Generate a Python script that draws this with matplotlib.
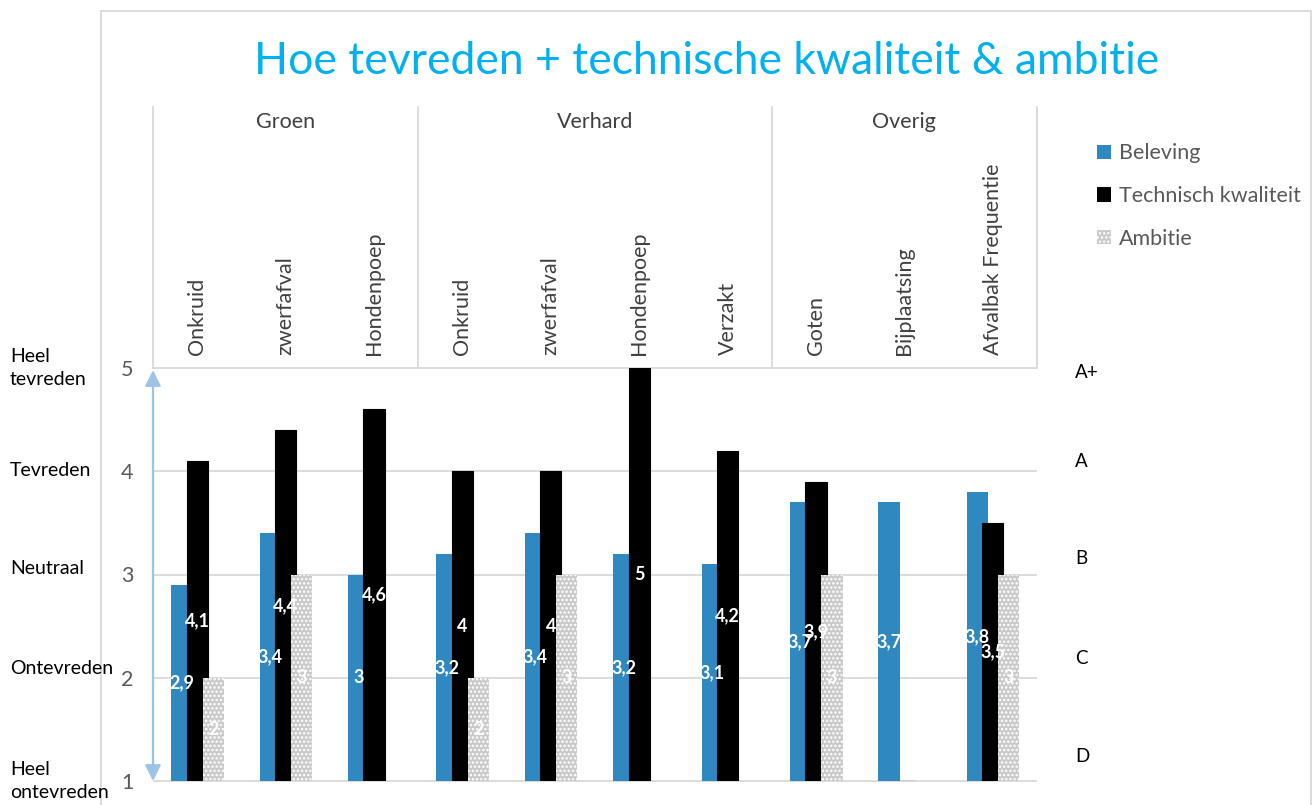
import numpy as np
import matplotlib.pyplot as plt
import matplotlib.transforms as mtransforms
from matplotlib.patches import Rectangle, Patch

plt.rcParams['font.family'] = ['Lato', 'DejaVu Sans']
plt.rcParams['hatch.linewidth'] = 1.2

# data
title = 'Hoe tevreden + technische kwaliteit & ambitie'
groups = ['Groen', 'Verhard', 'Overig']
group_sizes = [3, 4, 3]
categories = ['Onkruid', 'zwerfafval', 'Hondenpoep',
              'Onkruid', 'zwerfafval', 'Hondenpoep', 'Verzakt',
              'Goten', 'Bijplaatsing', 'Afvalbak Frequentie']
beleving = [2.9, 3.4, 3.0, 3.2, 3.4, 3.2, 3.1, 3.7, 3.7, 3.8]
technisch = [4.1, 4.4, 4.6, 4.0, 4.0, 5.0, 4.2, 3.9, 1.0, 3.5]
ambitie = [2, 3, np.nan, 2, 3, np.nan, np.nan, 3, np.nan, 3]
series_names = ['Beleving', 'Technisch kwaliteit', 'Ambitie']
y_ticks = [1, 2, 3, 4, 5]
left_labels = ['Heel\ntevreden', 'Tevreden', 'Neutraal', 'Ontevreden', 'Heel\nontevreden']
right_labels = ['A+', 'A', 'B', 'C', 'D']

W, H = 1315, 805
blue = '#2F88C0'
grid_col = '#D9D9D9'
text_col = '#404040'


def fmt(v):
    return ('%g' % v).replace('.', ',')


fig = plt.figure(figsize=(W / 100, H / 100), dpi=100)
ax = fig.add_axes([153 / W, 1 - 781 / H, (1037 - 153) / W, (781 - 368) / H])

x = np.arange(len(categories))
width = 0.24
offsets = [-0.175, 0.0, 0.18]

# bars are drawn from the axis minimum 1
ax.bar(x + offsets[0], np.array(beleving) - 1, bottom=1, width=width,
       color=blue, zorder=2)
ax.bar(x + offsets[1], np.array(technisch) - 1, bottom=1, width=width,
       color='black', edgecolor='black', linewidth=0.8, zorder=3)
ax.bar(x + offsets[2], np.array(ambitie, dtype=float) - 1, bottom=1, width=width,
       color='#C9C9C9', edgecolor='white', hatch='....', linewidth=0, zorder=4)

# data labels in the middle of each bar
for vals, off in zip([beleving, technisch, ambitie], offsets):
    for i, v in enumerate(vals):
        if np.isnan(v) or v <= 1:
            continue
        ax.text(i + off, (1 + v) / 2, fmt(v), ha='center', va='center',
                color='white', fontsize=13, fontweight='bold', zorder=6)

ax.set_xlim(-0.5, len(categories) - 0.5)
ax.set_ylim(1, 5)
ax.set_yticks(y_ticks)
ax.set_yticklabels([str(t) for t in y_ticks], fontsize=15.5, color='#595959')
ax.tick_params(axis='y', length=0, pad=14)
ax.set_xticks([])
for s in ax.spines.values():
    s.set_visible(False)
ax.hlines(y_ticks, -0.5, len(categories) - 0.5, color=grid_col, lw=1.3,
          zorder=0, clip_on=False)

# vertical arrow along the value axis
ax.annotate('', xy=(0, 0.995), xytext=(0, 0.0), xycoords='axes fraction',
            arrowprops=dict(arrowstyle='<|-|>', color='#9DC3E6', lw=1.6,
                            mutation_scale=24, shrinkA=0, shrinkB=0),
            annotation_clip=False, zorder=5)

# category header above the plot
trans = mtransforms.blended_transform_factory(ax.transData, ax.transAxes)
bounds = np.concatenate([[0], np.cumsum(group_sizes)]) - 0.5
for b in bounds:
    ax.plot([b, b], [1.0, 1.632], transform=trans, color=grid_col, lw=1.3,
            clip_on=False)
for g, lo, hi in zip(groups, bounds[:-1], bounds[1:]):
    ax.text((lo + hi) / 2, 1.596, g, transform=trans, ha='center', va='center',
            fontsize=15.5, color=text_col)
for i, c in enumerate(categories):
    ax.text(i, 1.031, c, transform=trans, rotation=90, ha='center', va='bottom',
            fontsize=15.5, color=text_col)

# labels left and right of the plot
left_y = [368, 470, 568, 668, 781]
for lab, py in zip(left_labels, left_y):
    fig.text(10 / W, 1 - py / H, lab, ha='left', va='center', fontsize=14,
             color='black', linespacing=1.4)
right_y = [372, 461, 559, 658, 756]
for lab, py in zip(right_labels, right_y):
    fig.text(1075 / W, 1 - py / H, lab, ha='left', va='center', fontsize=13.5,
             color='black')

# legend
handles = [Patch(facecolor=blue),
           Patch(facecolor='black'),
           Patch(facecolor='#C9C9C9', edgecolor='white', hatch='....', linewidth=0)]
fig.legend(handles, series_names, loc='upper left',
           bbox_to_anchor=(1078 / W, 1 - 124 / H), frameon=False, fontsize=15.5,
           labelcolor='#595959', handlelength=0.65, handleheight=0.65,
           handletextpad=0.35, labelspacing=1.05)

fig.text(707 / W, 1 - 62 / H, title, ha='center', va='center', fontsize=32,
         color='#00B0F0')

# chart border
fig.patches.append(Rectangle((101 / W, -0.02), (1311 - 101) / W, (805 - 11) / H + 0.02,
                             transform=fig.transFigure, fill=False,
                             edgecolor=grid_col, lw=1.3))

fig.savefig('out.png', dpi=100)
